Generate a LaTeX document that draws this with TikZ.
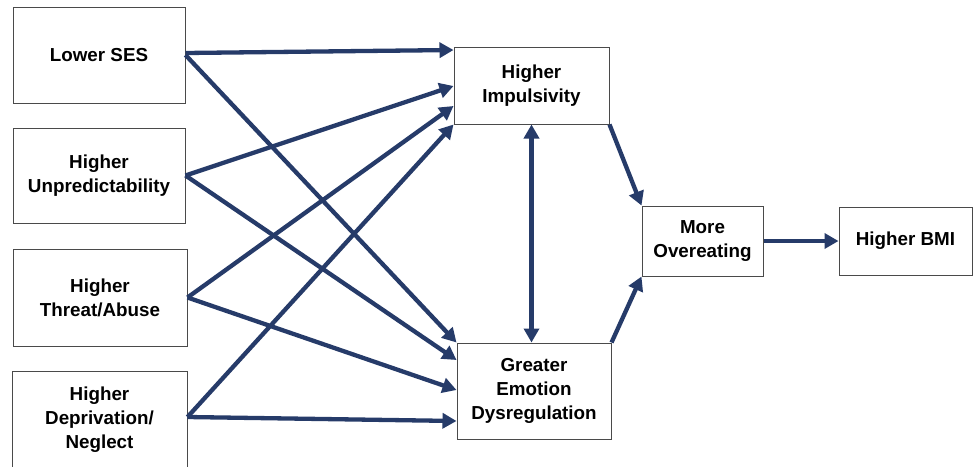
\documentclass[tikz,border=0pt]{standalone}
\usepackage{fontspec}
\setmainfont{Liberation Sans}
\usetikzlibrary{arrows.meta,calc}
\definecolor{navy}{HTML}{263B69}
\definecolor{boxline}{HTML}{4A4A4A}
\tikzset{
  box/.style={draw=boxline, line width=1pt, fill=white, align=center,
    font=\fontsize{18.8}{24}\selectfont\bfseries, inner sep=0pt},
  conn/.style={draw=navy, line width=4.3pt, -{Triangle[length=14pt,width=15pt]}},
  biconn/.style={draw=navy, line width=4.3pt, {Triangle[length=14pt,width=15pt]}-{Triangle[length=14pt,width=15pt]}}
}
\begin{document}
\begin{tikzpicture}[x=1pt,y=-1pt]
\useasboundingbox[clip] (0,0) rectangle (976,466);
\fill[white] (0,0) rectangle (976,466);
\node[box, minimum width=172pt, minimum height=96pt] (ses) at (99,55) {Lower SES};
\node[box, minimum width=172pt, minimum height=95pt] (unp) at (99,175.5) {Higher\\Unpredictability};
\node[box, minimum width=174pt, minimum height=97pt] (thr) at (100,297.5) {Higher\\Threat/Abuse};
\node[box, minimum width=175pt, minimum height=98pt] (dep) at (99.5,420) {Higher\\Deprivation/\\Neglect};
\node[box, minimum width=155pt, minimum height=77pt] (imp) at (531.5,85.5) {Higher\\Impulsivity};
\node[box, minimum width=154pt, minimum height=96pt] (emo) at (534,391) {Greater\\Emotion\\Dysregulation};
\node[box, minimum width=121pt, minimum height=70pt] (ove) at (702.5,241) {More\\Overeating};
\node[box, minimum width=133pt, minimum height=68pt] (bmi) at (905.5,241) {Higher BMI};

% to impulsivity
\draw[conn] ($(ses.east)+(0,-2)$) -- ($(imp.west)+(0,-35.5)$);
\draw[conn] (unp.east) -- ($(imp.west)+(0,0.5)$);
\draw[conn] (thr.east) -- ($(imp.west)+(0,20.5)$);
\draw[conn] ($(dep.east)+(0,-3)$) -- ($(imp.west)+(0,39)$);
% to emotion
\draw[conn] (ses.east) -- (emo.north west);
\draw[conn] (unp.east) -- ($(emo.west)+(0,-31)$);
\draw[conn] (thr.east) -- ($(emo.west)+(0,-1)$);
\draw[conn] ($(dep.east)+(0,-3)$) -- ($(emo.west)+(0,30)$);
% between mediators
\draw[biconn] (imp.south) -- (imp.south |- emo.north);
% to overeating
\draw[conn] (imp.south east) -- (ove.north west);
\draw[conn] (emo.north east) -- (ove.south west);
\draw[conn] (ove.east) -- (ove.east -| bmi.west);
\end{tikzpicture}
\end{document}
